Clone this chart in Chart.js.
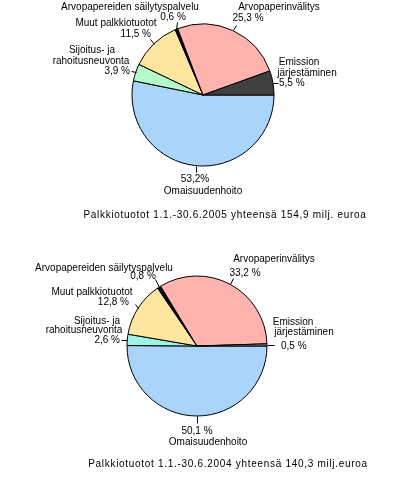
<!DOCTYPE html>
<html>
<head>
<meta charset="utf-8">
<script src="https://cdn.jsdelivr.net/npm/chart.js@4/dist/chart.umd.min.js"></script>
<style>
  html, body { margin: 0; padding: 0; background: #fff; }
  #wrap { position: relative; width: 399px; height: 498px; }
  #wrap canvas { position: absolute; left: 0; top: 0; }
</style>
</head>
<body>
<div id="wrap">
  <canvas id="chart2005" width="399" height="498"></canvas>
  <canvas id="chart2004" width="399" height="498"></canvas>
</div>
<script>
// slices run clockwise from 3 o'clock, like the original Excel pies
const categories = [
  "Omaisuudenhoito",
  "Sijoitus- ja rahoitusneuvonta",
  "Muut palkkiotuotot",
  "Arvopapereiden säilytyspalvelu",
  "Arvopaperinvälitys",
  "Emission järjestäminen"
];
const shares2005 = [53.2, 3.9, 11.5, 0.6, 25.3, 5.5];
const shares2004 = [50.1, 2.6, 12.8, 0.8, 33.2, 0.5];
const footer2005 = "Palkkiotuotot 1.1.-30.6.2005 yhteensä 154,9 milj. euroa";
const footer2004 = "Palkkiotuotot 1.1.-30.6.2004 yhteensä 140,3 milj.euroa";

const colors2005 = ["#AAD4FA", "#B4FAC8", "#FFE6A0", "#000000", "#FFB3AE", "#404040"];
const colors2004 = ["#AAD4FA", "#9CF3E6", "#FFE6A0", "#000000", "#FFB3AE", "#808080"];

// label placement: leader offset from the slice edge, then text lines ({v} = value)
const layout2005 = [
  { lead: [0, 6], lines: [["{v}%", 195, 179, "center"], ["Omaisuudenhoito", 203, 191, "center"]] },
  { lead: [-5, -1], lines: [["Sijoitus- ja", 92, 50, "center"], ["rahoitusneuvonta", 91, 61, "center"], ["{v} %", 130, 71, "right"]] },
  { lead: [-4, -5], lines: [["Muut palkkiotuotot", 116, 23, "center"], ["{v} %", 151, 34, "right"]] },
  { lead: [1, -7], lines: [["Arvopapereiden säilytyspalvelu", 130, 7, "center"], ["{v} %", 173, 17, "center"]] },
  { lead: [3, -5], lines: [["Arvopaperinvälitys", 279, 7, "center"], ["{v} %", 248, 18, "center"]] },
  { lead: [5, 0], lines: [["Emission", 299, 62, "center"], ["järjestäminen", 307, 73, "center"], ["{v} %", 279, 83, "left"]] }
];
const layout2004 = [
  { lead: [0, 7], lines: [["{v} %", 197, 431, "center"], ["Omaisuudenhoito", 208, 442, "center"]] },
  { lead: [-6, 0], lines: [["Sijoitus- ja", 97, 321, "center"], ["rahoitusneuvonta", 84, 330, "center"], ["{v} %", 120, 340, "right"]] },
  { lead: [-3, -4], lines: [["Muut palkkiotuotot", 92, 292, "center"], ["{v} %", 129, 302, "right"]] },
  { lead: [-4, -8], lines: [["Arvopapereiden säilytyspalvelu", 104, 268, "center"], ["{v} %", 143, 276, "center"]] },
  { lead: [3, -6], lines: [["Arvopaperinvälitys", 274, 259, "center"], ["{v} %", 245, 273, "center"]] },
  { lead: [7, 0], lines: [["Emission", 293, 322, "center"], ["järjestäminen", 304, 332, "center"], ["{v} %", 281, 346, "left"]] }
];

const pieLabels = {
  id: "pieLabels",
  afterDatasetsDraw(chart, args, opts) {
    const ctx = chart.ctx;
    const meta = chart.getDatasetMeta(0);
    const values = chart.data.datasets[0].data;
    ctx.save();
    ctx.font = "10px 'Liberation Sans', Arial, sans-serif";
    ctx.fillStyle = "#000";
    ctx.strokeStyle = "#000";
    ctx.lineWidth = 1;
    ctx.textBaseline = "middle";
    meta.data.forEach((arc, i) => {
      const lay = opts.layout[i];
      const mid = (arc.startAngle + arc.endAngle) / 2;
      const ex = arc.x + Math.cos(mid) * arc.outerRadius;
      const ey = arc.y + Math.sin(mid) * arc.outerRadius;
      ctx.beginPath();
      ctx.moveTo(Math.round(ex) + 0.5, Math.round(ey) + 0.5);
      ctx.lineTo(Math.round(ex + lay.lead[0]) + 0.5, Math.round(ey + lay.lead[1]) + 0.5);
      ctx.stroke();
      const v = values[i].toFixed(1).replace(".", ",");
      lay.lines.forEach(([t, x, y, align]) => {
        ctx.textAlign = align;
        ctx.fillText(t.replace("{v}", v), x, y);
      });
    });
    ctx.textAlign = "center";
    ctx.letterSpacing = opts.footerSpacing;
    ctx.fillText(opts.footer, opts.footerPos[0], opts.footerPos[1]);
    ctx.restore();
  }
};

function makePie(id, values, colors, radius, padding, layout, footer, footerPos) {
  return new Chart(document.getElementById(id), {
    type: "pie",
    data: {
      labels: categories,
      datasets: [{
        data: values,
        backgroundColor: colors,
        borderColor: "#000",
        borderWidth: 1,
        radius: radius
      }]
    },
    options: {
      responsive: false,
      animation: false,
      events: [],
      rotation: 90,
      layout: { padding: padding },
      plugins: {
        legend: { display: false },
        tooltip: { enabled: false },
        pieLabels: { layout: layout, footer: footer, footerPos: footerPos, footerSpacing: "0.7px" }
      }
    },
    plugins: [pieLabels]
  });
}

makePie("chart2005", shares2005, colors2005, 71,
  { left: 132, right: 125, top: 24, bottom: 332 }, layout2005, footer2005, [225, 215]);
makePie("chart2004", shares2004, colors2004, 70,
  { left: 127, right: 132, top: 276, bottom: 82 }, layout2004, footer2004, [228, 464]);
</script>
</body>
</html>
